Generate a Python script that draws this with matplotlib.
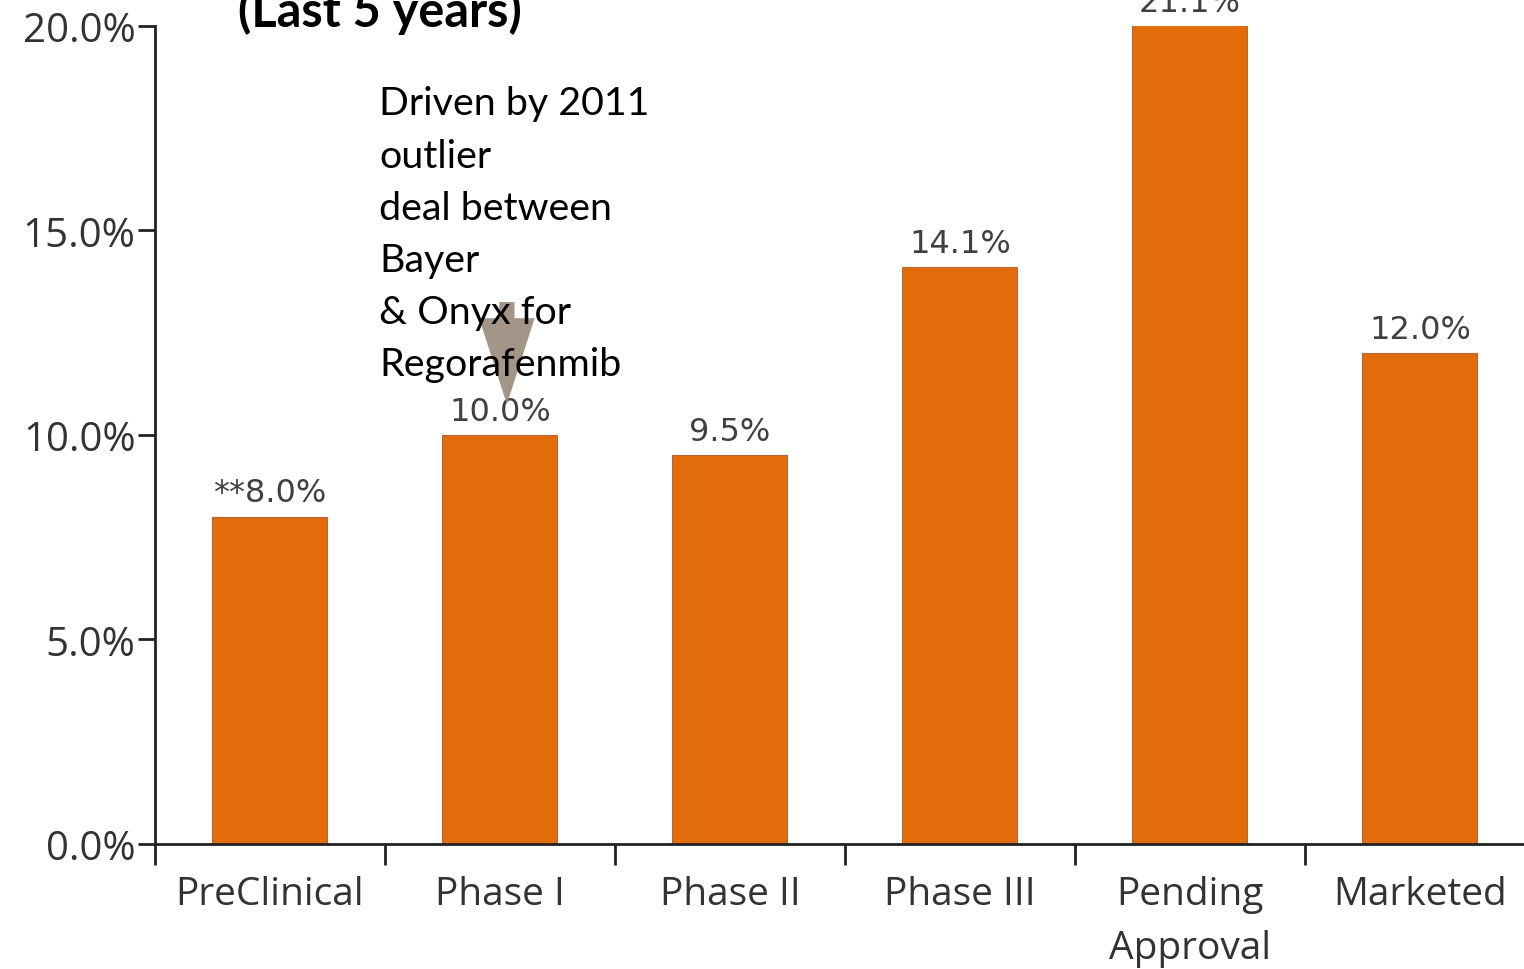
import matplotlib
matplotlib.use("Agg")
import matplotlib.pyplot as plt
import numpy as np

stages = ["PreClinical", "Phase I", "Phase II", "Phase III", "Pending\nApproval", "Marketed"]
rates = [8.0, 10.0, 9.5, 14.1, 21.1, 12.0]
rate_labels = ["**8.0%", "10.0%", "9.5%", "14.1%", "21.1%", "12.0%"]
yticks = [0, 5, 10, 15, 20]
note = "Driven by 2011\noutlier\ndeal between\nBayer\n& Onyx for\nRegorafenmib"

bar_color = "#E36C0A"
tick_color = "#333333"

fig = plt.figure(figsize=(15.24, 9.70), dpi=100)
ax = fig.add_axes([0.1017, 0.1289, 0.9055, 0.8433])

x = np.arange(len(stages))
ax.bar(x, rates, width=0.5, color=bar_color, edgecolor="#b0673a", linewidth=0.8)

ymax = 20
ax.set_ylim(0, ymax)
ax.set_xlim(-0.5, len(stages) - 0.5)

for xi, v, lab in zip(x, rates, rate_labels):
    ax.annotate(lab, (xi, min(v, ymax)), xytext=(0, 6), textcoords="offset points",
                ha="center", va="bottom", fontsize=23, color="#404040",
                family="DejaVu Sans", annotation_clip=False)

ax.set_yticks(yticks)
ax.set_yticklabels([f"{t:.1f}%" for t in yticks])
ax.set_xticks(x)
ax.set_xticklabels(stages, linespacing=1.58)
ax.set_xticks(np.arange(-0.5, len(stages), 1.0), minor=True)
ax.tick_params(axis="x", which="major", length=0, pad=22)
ax.tick_params(axis="x", which="minor", length=15, width=2, color="#222222")
ax.tick_params(axis="y", length=12, width=2, color="#222222", pad=2)
for lab in ax.get_xticklabels():
    lab.set_family("Open Sans")
    lab.set_fontsize(28)
    lab.set_color(tick_color)
for lab in ax.get_yticklabels():
    lab.set_family("Open Sans")
    lab.set_fontsize(29)
    lab.set_color(tick_color)

for side in ["top", "right"]:
    ax.spines[side].set_visible(False)
for side in ["left", "bottom"]:
    ax.spines[side].set_linewidth(2)
    ax.spines[side].set_color("#222222")

# callout pointing at the Phase I bar
ax.annotate("", xy=(1.03, 10.75), xytext=(1.03, 13.25),
            arrowprops=dict(arrowstyle="simple,head_length=3.1,head_width=2.0,tail_width=0.55",
                            mutation_scale=20, color="#9a8a7c", alpha=0.9, lw=0,
                            shrinkA=0, shrinkB=0))
ax.text(0.475, 18.55, note, fontsize=28.4, family="Lato", color="black",
        ha="left", va="top", linespacing=1.56, zorder=5)

fig.text(0.156, 0.972, "(Last 5 years)", fontsize=35, fontweight="bold",
         family="Lato", ha="left", va="baseline")

fig.savefig("out.png", dpi=100)
